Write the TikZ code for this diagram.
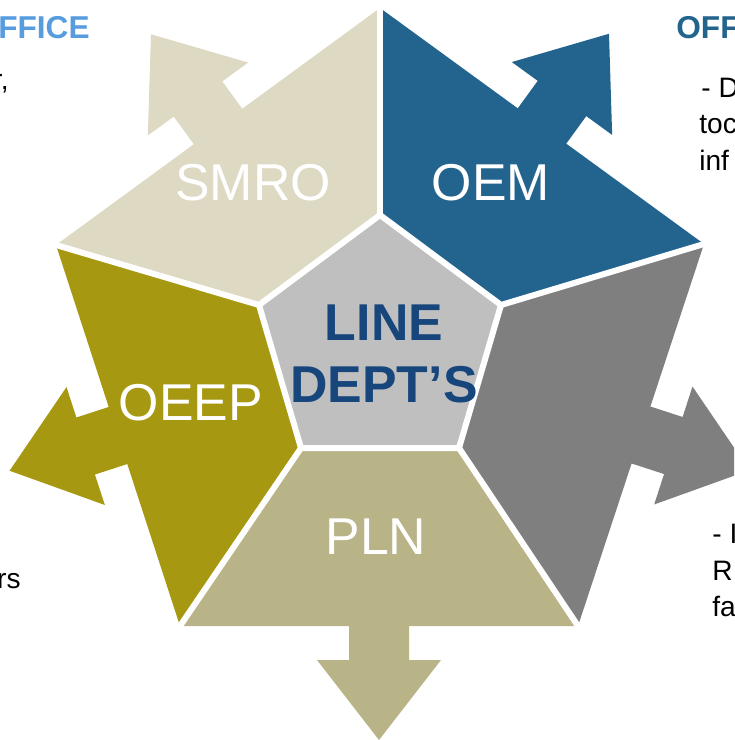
\documentclass[tikz,border=0pt]{standalone}
\usepackage{fontspec}
\setmainfont{Liberation Sans}
\usetikzlibrary{calc}

\definecolor{smrocol}{RGB}{221,217,195}
\definecolor{oemcol}{RGB}{34,100,142}
\definecolor{greycol}{RGB}{127,127,127}
\definecolor{plncol}{RGB}{185,179,136}
\definecolor{oeepcol}{RGB}{166,152,17}
\definecolor{centrecol}{RGB}{191,191,191}
\definecolor{deptblue}{RGB}{23,70,125}
\definecolor{headblue}{RGB}{88,156,224}

\tikzset{
  gap/.style={draw=white,line width=0.12cm,line join=miter},
  seglabel/.style={text=white,inner sep=0pt,font=\fontsize{29.5}{35}\selectfont},
  sidetext/.style={inner sep=0pt,font=\fontsize{16}{19}\selectfont},
  sidehead/.style={inner sep=0pt,font=\bfseries\fontsize{18}{21}\selectfont},
  outarrow/.pic={\path[pic actions] (-3,-30) -- (34,-30) -- (34,-62) -- (114,0)
    -- (34,62) -- (34,30) -- (-3,30) -- cycle;}
}

\begin{document}
\begin{tikzpicture}[x=0.02cm,y=-0.02cm]
  \useasboundingbox (0,0) rectangle (734,740);
  \clip (0,0) rectangle (734,740);

  % Outer and inner pentagon corners (pixel grid, y downwards).
  \coordinate (O1) at (380,8);
  \coordinate (O2) at (704,244);
  \coordinate (O3) at (578,626);
  \coordinate (O4) at (180,626);
  \coordinate (O5) at (56,245);
  \coordinate (I1) at (380,215);
  \coordinate (I2) at (501,305);
  \coordinate (I3) at (459,448);
  \coordinate (I4) at (301,448);
  \coordinate (I5) at (259,305);

  % Mid points of the outer edges carry the arrows.
  \coordinate (M1) at ($(O1)!0.5!(O2)$);
  \coordinate (M2) at ($(O2)!0.5!(O3)$);
  \coordinate (M3) at ($(O3)!0.5!(O4)$);
  \coordinate (M4) at ($(O4)!0.5!(O5)$);
  \coordinate (M5) at ($(O5)!0.5!(O1)$);

  % Clipped text of the slide behind the diagram.
  \node[sidehead,text=headblue,anchor=base east] (lefthead) at (90,39) {FFICE};
  \node[sidetext,anchor=base east] (leftone) at (9,90) {r,};
  \node[sidetext,anchor=base east] (lefttwo) at (21,588) {rs};
  \node[sidehead,text=oemcol,anchor=base west] (righthead) at (676,39) {OFF};
  \node[sidetext,anchor=base west] (rightone) at (701,97) {- D};
  \node[sidetext,anchor=base west] (righttwo) at (699,133) {toc};
  \node[sidetext,anchor=base west] (rightthree) at (699,170) {inf};
  \node[sidetext,anchor=base west] (lowone) at (712,543) {- I};
  \node[sidetext,anchor=base west] (lowtwo) at (712,580) {R};
  \node[sidetext,anchor=base west] (lowthree) at (712,616) {fa};

  % Five outer segments.
  \fill[smrocol] (O5) -- (O1) -- (I1) -- (I5) -- cycle;
  \fill[oemcol] (O1) -- (O2) -- (I2) -- (I1) -- cycle;
  \fill[greycol] (O2) -- (O3) -- (I3) -- (I2) -- cycle;
  \fill[plncol] (O3) -- (O4) -- (I4) -- (I3) -- cycle;
  \fill[oeepcol] (O4) -- (O5) -- (I5) -- (I4) -- cycle;

  % Arrows out of each segment.
  \pic[fill=oemcol,rotate=54] at (M1) {outarrow};
  \pic[fill=greycol,rotate=-18] at (M2) {outarrow};
  \pic[fill=plncol,rotate=-90] at (M3) {outarrow};
  \pic[fill=oeepcol,rotate=198] at (M4) {outarrow};
  \pic[fill=smrocol,rotate=126] at (M5) {outarrow};

  % White gaps between the segments.
  \path[gap] (I1) -- (O1);
  \path[gap] (I2) -- (O2);
  \path[gap] (I3) -- (O3);
  \path[gap] (I4) -- (O4);
  \path[gap] (I5) -- (O5);
  \path[gap,fill=centrecol] (I1) -- (I2) -- (I3) -- (I4) -- (I5) -- cycle;

  \node[seglabel] (smro) at (253,183) {SMRO};
  \node[seglabel] (oem) at (491,183) {OEM};
  \node[seglabel] (oeep) at (191,403) {OEEP};
  \node[seglabel] (pln) at (376,537) {PLN};
  \node[align=center,text=deptblue,inner sep=0pt,
    font=\bfseries\fontsize{29.5}{35}\selectfont] (dept) at (384,354)
    {LINE\\DEPT’S};
\end{tikzpicture}
\end{document}
